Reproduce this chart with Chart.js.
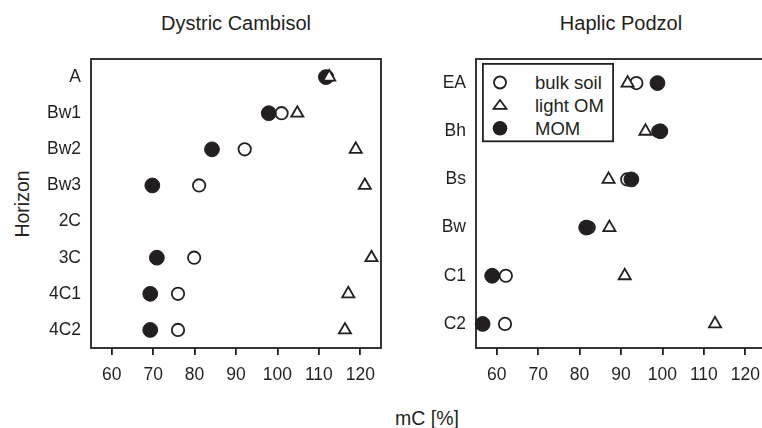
<!DOCTYPE html>
<html>
<head>
<meta charset="utf-8">
<script src="https://cdn.jsdelivr.net/npm/chart.js@4"></script>
<style>
html,body{margin:0;padding:0;background:#fff;overflow:hidden;width:762px;height:428px;}
body{position:relative;font-family:"Liberation Sans",Arial,Helvetica,sans-serif;color:#231f20;}
.panel{position:absolute;top:0;width:390px;height:428px;}
.panel canvas{display:block;}
.title{position:absolute;top:11px;width:290px;font-size:20px;line-height:24px;text-align:center;white-space:nowrap;}
.axlab{position:absolute;width:120px;font-size:19.5px;line-height:24px;text-align:center;white-space:nowrap;}
#legend{position:absolute;left:482px;top:63px;}
</style>
</head>
<body>
<div class="title" style="left:91px;">Dystric Cambisol</div>
<div class="title" style="left:476px;">Haplic Podzol</div>
<div class="axlab" style="left:-38px;top:192px;transform:rotate(-90deg);">Horizon</div>
<div class="axlab" style="left:367px;top:406px;">mC [%]</div>
<div class="panel" style="left:0px;"><canvas id="c1" width="390" height="428"></canvas></div>
<div class="panel" style="left:385px;"><canvas id="c2" width="390" height="428"></canvas></div>
<svg id="legend" width="132" height="80" xmlns="http://www.w3.org/2000/svg">
  <rect x="0.9" y="0.9" width="130.2" height="77.4" fill="#fff" stroke="#231f20" stroke-width="1.8"/>
  <circle cx="18" cy="19.5" r="6" fill="none" stroke="#231f20" stroke-width="1.8"/>
  <polygon points="18,37 11.5,45.8 24.5,45.8" fill="none" stroke="#231f20" stroke-width="1.8" stroke-linejoin="miter"/>
  <circle cx="18" cy="65.3" r="7.3" fill="#231f20"/>
  <text x="53" y="26.3" font-family="Liberation Sans, Arial, sans-serif" font-size="18.5" fill="#231f20">bulk soil</text>
  <text x="53" y="49" font-family="Liberation Sans, Arial, sans-serif" font-size="18.5" fill="#231f20">light OM</text>
  <text x="53" y="72" font-family="Liberation Sans, Arial, sans-serif" font-size="18.5" fill="#231f20">MOM</text>
</svg>
<script>
// ---- data ----
const xTicks = [60, 70, 80, 90, 100, 110, 120];
const xMin = 55, xMax = 125;

const cambisolHorizons = ['A', 'Bw1', 'Bw2', 'Bw3', '2C', '3C', '4C1', '4C2'];
const cambisolBulk  = [112.0, 101.0, 92.1, 81.1, null, 79.9, 76.0, 76.0];
const cambisolLight = [112.5, 104.8, 118.9, 121.1, null, 122.7, 117.1, 116.3];
const cambisolMOM   = [111.7, 97.9, 84.2, 69.8, null, 70.9, 69.3, 69.3];

const podzolHorizons = ['EA', 'Bh', 'Bs', 'Bw', 'C1', 'C2'];
const podzolBulk  = [93.7, 99.0, 91.5, 82.2, 62.2, 62.0];
const podzolLight = [91.6, 95.9, 87.0, 87.2, 90.9, 112.7];
const podzolMOM   = [98.8, 99.5, 92.5, 81.6, 58.9, 56.6];

// ---- chart ----
const ink = '#231f20';
const family = '"Liberation Sans", Arial, Helvetica, sans-serif';

function toPoints(horizons, values) {
  const pts = [];
  horizons.forEach((h, i) => { if (values[i] !== null) pts.push({ x: values[i], y: h }); });
  return pts;
}

const boxPlugin = {
  id: 'plotBox',
  beforeDatasetsDraw(chart) {
    const { ctx, chartArea: a } = chart;
    ctx.save();
    ctx.strokeStyle = ink;
    ctx.lineWidth = 1.8;
    ctx.strokeRect(a.left, a.top, a.right - a.left, a.bottom - a.top);
    ctx.restore();
  }
};

function makeChart(id, horizons, bulk, light, mom) {
  return new Chart(document.getElementById(id), {
    type: 'scatter',
    data: {
      datasets: [
        { label: 'light OM', data: toPoints(horizons, light), pointStyle: 'triangle', pointRadius: 7,
          borderWidth: 1.8, borderColor: ink, backgroundColor: '#fff', order: 0, clip: false },
        { label: 'MOM', data: toPoints(horizons, mom), pointStyle: 'circle', pointRadius: 7.4,
          borderWidth: 1, borderColor: ink, backgroundColor: ink, order: 1, clip: false },
        { label: 'bulk soil', data: toPoints(horizons, bulk), pointStyle: 'circle', pointRadius: 6.2,
          borderWidth: 1.8, borderColor: ink, backgroundColor: 'rgba(0,0,0,0)', order: 2, clip: false }
      ]
    },
    options: {
      responsive: false,
      animation: false,
      events: [],
      layout: { padding: { top: 59, right: 9, left: 0, bottom: 0 } },
      plugins: { legend: { display: false }, tooltip: { enabled: false }, title: { display: false } },
      scales: {
        x: {
          type: 'linear', min: xMin, max: xMax,
          afterBuildTicks: s => { s.ticks = xTicks.map(v => ({ value: v })); },
          afterFit: s => { s.height = 80; },
          grid: { drawOnChartArea: false, drawTicks: true, tickLength: 7, color: ink, lineWidth: 1.8 },
          border: { display: false },
          ticks: { color: ink, font: { family, size: 17.5 }, padding: 10, autoSkip: false, maxRotation: 0 }
        },
        y: {
          type: 'category', labels: horizons, offset: true,
          afterFit: s => { s.width = 91; },
          grid: { display: false, drawTicks: false },
          border: { display: false },
          ticks: { color: ink, font: { family, size: 17.5 }, padding: 10, autoSkip: false }
        }
      }
    },
    plugins: [boxPlugin]
  });
}

makeChart('c1', cambisolHorizons, cambisolBulk, cambisolLight, cambisolMOM);
makeChart('c2', podzolHorizons, podzolBulk, podzolLight, podzolMOM);
</script>
</body>
</html>
